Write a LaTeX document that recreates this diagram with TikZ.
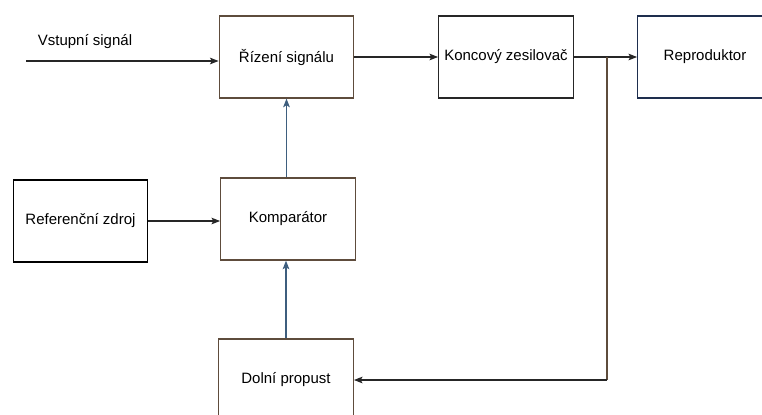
\documentclass[tikz,border=0pt]{standalone}
\usepackage{fontspec}
\setmainfont{Liberation Sans}
\usetikzlibrary{arrows.meta}
\definecolor{hneda}{HTML}{5E4C3C}
\definecolor{modra}{HTML}{3E5E7E}
\definecolor{tmava}{HTML}{1E2E4E}
\tikzset{
  blok/.style={draw=hneda, line width=0.9pt, minimum width=101pt,
    minimum height=61.5pt, inner sep=2pt,
    font=\fontsize{11.25}{13.5}\selectfont},
  sipka/.style={-{Stealth[length=6.5pt,width=5pt,inset=1.5pt]},
    line width=0.9pt, draw=black!85},
}
\begin{document}
\begin{tikzpicture}  % ------ Zpetnovazebni rizeni hlasitosti -------
      [x=0.75pt,y=-0.75pt]
    \clip (0,0) rectangle (762,414);

    \node[blok] (riz) at (286.5,57) {Řízení signálu};
    \node[blok, draw=black!85] (konc) at (506,57) {Koncový zesilovač};
    \node[blok, draw=tmava] (repro) at (705,57) {Reproduktor};
    \node[blok, draw=black] (ref) at (80.5,221) {Referenční zdroj};
    \node[blok] (komp) at (288,219) {Komparátor};
    \node[blok] (dolni) at (286,380) {Dolní propust};

    \coordinate (vstup) at (26,61);
    \coordinate (uzel) at (607,57);
    \node[font=\fontsize{11.25}{13.5}\selectfont] (popis) at (85,42) {Vstupní signál};

    \draw[sipka] (vstup) -- (vstup -| riz.west);
    \draw[sipka] (riz.east) -- (konc.west);
    \draw[sipka] (konc.east) -- (repro.west);
    \draw[sipka] (ref.east) -- (ref.east -| komp.west);
    \draw[sipka, draw=modra] (komp.north -| riz.south) -- (riz.south);
    \draw[sipka, draw=modra] (dolni.north) -- (dolni.north |- komp.south);
    \draw[line width=0.9pt, draw=hneda] (uzel) -- (uzel |- dolni.east);
    \draw[sipka] (uzel |- dolni.east) -- (dolni.east);   % zpetna vazba
\end{tikzpicture}
\end{document}
